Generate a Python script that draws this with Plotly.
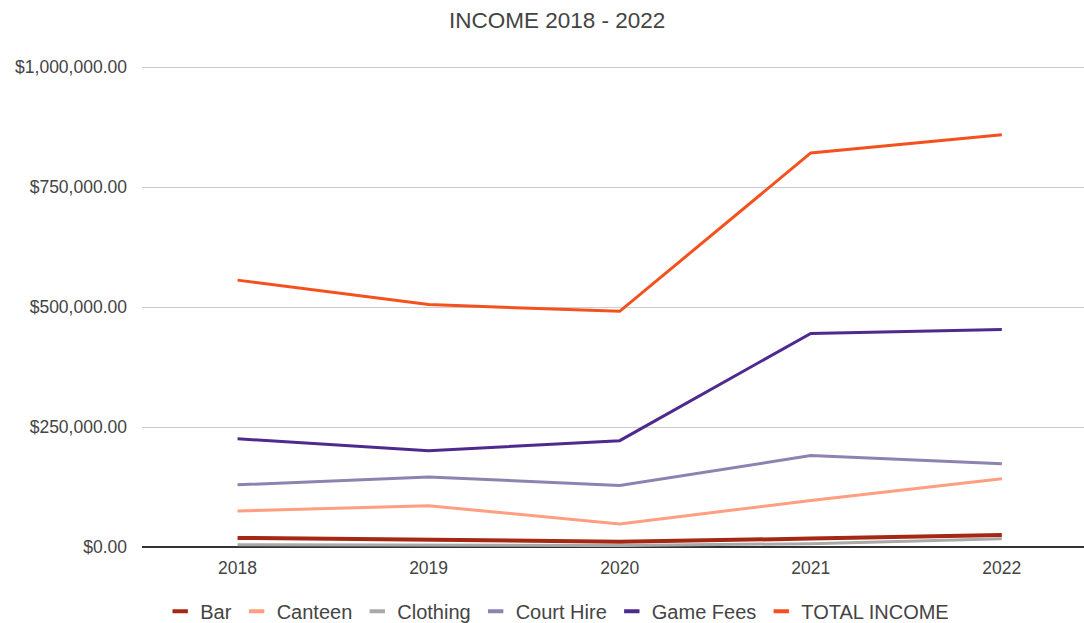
import plotly.graph_objects as go

years = [2018, 2019, 2020, 2021, 2022]
bar = [19000, 14500, 11000, 17500, 25000]
canteen = [75000, 86000, 48000, 97000, 142000]
clothing = [4800, 4000, 3000, 7000, 17000]
court_hire = [129500, 146000, 128000, 190500, 173500]
game_fees = [225500, 200500, 221500, 445000, 453000]
total_income = [556000, 505000, 491000, 821000, 859000]

series = [
    ("Bar", bar, "#A52714", 4),
    ("Canteen", canteen, "#FF9E80", 3),
    ("Clothing", clothing, "#A9A9A9", 3),
    ("Court Hire", court_hire, "#8E83B0", 3),
    ("Game Fees", game_fees, "#4E2A8E", 3),
    ("TOTAL INCOME", total_income, "#F4511E", 3),
]

fig = go.Figure()
for name, vals, color, w in series:
    fig.add_trace(go.Scatter(x=years, y=vals, name=name, mode="lines", showlegend=False,
                             line=dict(color=color, width=w)))
for name, vals, color, w in series:
    fig.add_trace(go.Scatter(x=[None], y=[None], name=name, mode="markers", showlegend=True,
                             marker=dict(symbol="line-ew-open", size=11, color=color,
                                         line=dict(color=color, width=4))))

fig.update_layout(
    width=1084, height=623,
    margin=dict(l=142, r=0, t=66, b=76),
    paper_bgcolor="white", plot_bgcolor="white",
    font=dict(family="Liberation Sans, Arial, sans-serif", color="#444"),
    title=dict(text="INCOME 2018 - 2022", x=0.514, xref="container", xanchor="center",
               y=0.968, yref="container", yanchor="middle",
               font=dict(size=22.5, color="#444")),
    showlegend=True,
    legend=dict(orientation="h", xref="container", x=0.514, xanchor="center",
                yref="container", y=0.019, yanchor="middle",
                font=dict(size=20, color="#444"), itemwidth=30, traceorder="normal"),
)
fig.update_xaxes(range=[2017.5, 2022.43], tickvals=years, ticktext=[str(y) for y in years],
                 showgrid=False, zeroline=False, showline=False,
                 tickfont=dict(size=17.5, color="#444"), ticks="", ticklabelstandoff=8)
fig.update_yaxes(range=[0, 1002100], tickvals=[0, 250000, 500000, 750000, 1000000],
                 ticktext=["$0.00", "$250,000.00", "$500,000.00", "$750,000.00", "$1,000,000.00"],
                 showgrid=True, gridcolor="#CCCCCC", gridwidth=1,
                 zeroline=True, zerolinecolor="#333333", zerolinewidth=2,
                 tickfont=dict(size=17.5, color="#444"), ticks="", ticklabelstandoff=14)

fig.write_html("out.html")
